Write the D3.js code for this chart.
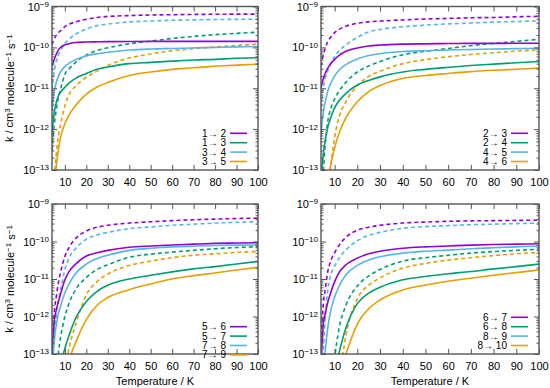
<!DOCTYPE html>
<html>
<head>
<meta charset="utf-8">
<script src="https://cdn.jsdelivr.net/npm/d3@7"></script>
<style>
body { margin: 0; background: #fff; }
svg { font-family: "Liberation Sans", Arial, Helvetica, sans-serif; }
</style>
</head>
<body>
<div id="chart"></div>
<script>
// Temperatures (K) shared by every curve.
var temps = [4, 5, 6, 7, 8, 10, 12, 15, 20, 25, 30, 40, 50, 60, 70, 80, 90, 100];

// Rate coefficients (cm^3 molecule^-1 s^-1).
// Solid = legend curves, "dot" = dashed companion curve of the same colour.
// Top left: 1->2, 1->3, 3->4, 3->5
var k12    = [3.4e-11,5e-11,6.8e-11,8.7e-11,1.0e-10,1.15e-10,1.23e-10,1.32e-10,1.35e-10,1.37e-10,1.38e-10,1.39e-10,1.4e-10,1.4e-10,1.4e-10,1.4e-10,1.4e-10,1.4e-10];
var k13    = [8e-13,2.5e-12,4.5e-12,6.5e-12,8e-12,1.05e-11,1.35e-11,1.75e-11,2.3e-11,2.9e-11,3.3e-11,4.0e-11,4.3e-11,4.6e-11,4.9e-11,5.1e-11,5.4e-11,5.6e-11];
var k34    = [2.9e-12,8e-12,1.4e-11,1.95e-11,2.5e-11,3.4e-11,4.1e-11,5.0e-11,6.2e-11,7.0e-11,7.6e-11,8.6e-11,9.1e-11,9.4e-11,9.7e-11,1.0e-10,1.03e-10,1.05e-10];
var k35    = [3e-15,2.8e-14,1.26e-13,3.2e-13,6.3e-13,1.35e-12,2.24e-12,3.8e-12,7.2e-12,1.07e-11,1.38e-11,2.04e-11,2.5e-11,2.9e-11,3.16e-11,3.47e-11,3.67e-11,3.9e-11];
var k12dot = [1.15e-10,1.6e-10,2.0e-10,2.3e-10,2.55e-10,3.2e-10,3.7e-10,4.2e-10,4.85e-10,5.4e-10,5.7e-10,6.0e-10,6.2e-10,6.3e-10,6.4e-10,6.45e-10,6.5e-10,6.5e-10];
var k13dot = [3e-13,1.2e-12,3e-12,6e-12,9.5e-12,2.2e-11,3.0e-11,4.3e-11,6.5e-11,8.4e-11,9.8e-11,1.22e-10,1.42e-10,1.65e-10,1.85e-10,2.05e-10,2.2e-10,2.35e-10];
var k34dot = [9e-12,2.5e-11,4.5e-11,6.6e-11,8.5e-11,1.25e-10,1.6e-10,2.1e-10,2.8e-10,3.4e-10,3.7e-10,4.2e-10,4.4e-10,4.6e-10,4.7e-10,4.8e-10,4.85e-10,4.9e-10];
var k35dot = [6.3e-15,5.6e-14,2.5e-13,6.8e-13,1.32e-12,3.7e-12,7.1e-12,1.12e-11,1.86e-11,2.63e-11,3.63e-11,5.5e-11,6.9e-11,8.3e-11,9.3e-11,1.02e-10,1.12e-10,1.2e-10];

// Top right: 2->3, 2->4, 4->5, 4->6
var k23    = [1.0e-11,1.7e-11,2.4e-11,3.1e-11,3.8e-11,5.1e-11,6.4e-11,8.0e-11,9.7e-11,1.08e-10,1.14e-10,1.2e-10,1.22e-10,1.24e-10,1.25e-10,1.25e-10,1.26e-10,1.26e-10];
var k24    = [5e-14,2.5e-13,6e-13,1.1e-12,1.7e-12,3.3e-12,5e-12,7.5e-12,1.2e-11,1.55e-11,1.9e-11,2.5e-11,2.9e-11,3.25e-11,3.6e-11,3.9e-11,4.2e-11,4.5e-11];
var k45    = [7e-13,2.5e-12,5e-12,8.5e-12,1.2e-11,2.0e-11,2.8e-11,3.8e-11,5.2e-11,6.3e-11,7.0e-11,7.9e-11,8.3e-11,8.6e-11,8.9e-11,9.1e-11,9.3e-11,9.5e-11];
var k46    = [1e-15,5e-15,1.8e-14,5e-14,1.1e-13,3.5e-13,8e-13,1.9e-12,4.7e-12,8.3e-12,1.17e-11,1.74e-11,2.05e-11,2.3e-11,2.55e-11,2.75e-11,2.92e-11,3.1e-11];
var k23dot = [3.5e-11,6.5e-11,1.0e-10,1.4e-10,1.7e-10,2.3e-10,2.75e-10,3.3e-10,3.9e-10,4.2e-10,4.4e-10,4.7e-10,4.95e-10,5.1e-10,5.3e-10,5.4e-10,5.6e-10,5.75e-10];
var k24dot = [2e-14,9e-14,5e-13,1.6e-12,2.8e-12,5.5e-12,8.5e-12,1.4e-11,2.5e-11,3.5e-11,4.5e-11,6.6e-11,8.0e-11,9.4e-11,1.1e-10,1.25e-10,1.4e-10,1.58e-10];
var k45dot = [3.5e-12,1.0e-11,1.9e-11,2.7e-11,3.6e-11,6.0e-11,8.2e-11,1.15e-10,1.75e-10,2.4e-10,2.75e-10,3.2e-10,3.5e-10,3.75e-10,3.95e-10,4.15e-10,4.3e-10,4.45e-10];
var k46dot = [2.5e-16,1.6e-15,8e-15,3e-14,9e-14,6.3e-13,2e-12,4.7e-12,1.15e-11,1.95e-11,2.6e-11,4.0e-11,5.0e-11,5.9e-11,6.7e-11,7.4e-11,8.1e-11,8.7e-11];

// Bottom left: 5->6, 5->7, 7->8, 7->9
var k56    = [8e-14,7e-13,1.5e-12,2.5e-12,4e-12,9.5e-12,1.6e-11,2.5e-11,4.1e-11,5.0e-11,5.8e-11,7.0e-11,7.6e-11,8.1e-11,8.5e-11,8.9e-11,9.1e-11,9.3e-11];
var k57    = [1.6e-16,1.3e-15,6.3e-15,2e-14,5e-14,1.4e-13,3.2e-13,8.9e-13,2.5e-12,4.7e-12,6.8e-12,1.0e-11,1.26e-11,1.55e-11,1.86e-11,2.14e-11,2.5e-11,2.95e-11];
var k78    = [3e-14,2e-13,6e-13,1.2e-12,1.9e-12,4.3e-12,7.5e-12,1.4e-11,2.5e-11,3.5e-11,4.3e-11,5.8e-11,6.6e-11,7.2e-11,7.5e-11,7.8e-11,8.0e-11,8.1e-11];
var k79    = [1e-18,1e-17,1e-16,5e-16,1.6e-15,1.4e-14,6.3e-14,2e-13,8.3e-13,2e-12,3.2e-12,5.2e-12,7.4e-12,1.0e-11,1.23e-11,1.45e-11,1.74e-11,2.04e-11];
var k56dot = [1e-13,1.2e-12,3.4e-12,8e-12,1.5e-11,4e-11,7e-11,1.2e-10,1.9e-10,2.4e-10,2.7e-10,3.1e-10,3.35e-10,3.6e-10,3.8e-10,3.95e-10,4.1e-10,4.2e-10];
var k57dot = [1e-16,3e-15,3e-14,1.1e-13,2.8e-13,1.0e-12,2.3e-12,5.2e-12,1.1e-11,1.8e-11,2.4e-11,3.8e-11,4.6e-11,5.2e-11,5.8e-11,6.4e-11,6.9e-11,7.3e-11];
var k78dot = [3e-14,3e-13,1.2e-12,2.7e-12,5e-12,1.8e-11,3.7e-11,6.5e-11,1.15e-10,1.5e-10,1.75e-10,2.2e-10,2.45e-10,2.7e-10,2.9e-10,3.1e-10,3.25e-10,3.4e-10];
var k79dot = [1e-18,1e-17,1e-16,1e-15,6e-15,4e-14,1.5e-13,6e-13,3.8e-12,8.5e-12,1.35e-11,2.3e-11,3.0e-11,3.7e-11,4.3e-11,4.7e-11,5.1e-11,5.4e-11];

// Bottom right: 6->7, 6->8, 8->9, 8->10
var k67     = [5e-14,6e-13,1.3e-12,2.4e-12,3.8e-12,8.5e-12,1.5e-11,2.4e-11,3.6e-11,4.7e-11,5.5e-11,6.6e-11,7.2e-11,7.6e-11,8.0e-11,8.3e-11,8.5e-11,8.7e-11];
var k68     = [1e-17,8e-17,4e-16,1.6e-15,5e-15,3.2e-14,1.1e-13,5e-13,2.2e-12,4.2e-12,6.0e-12,9.5e-12,1.17e-11,1.38e-11,1.58e-11,1.86e-11,2.14e-11,2.5e-11];
var k89     = [1e-15,3e-14,1.5e-13,5e-13,1.2e-12,3.3e-12,6.5e-12,1.3e-11,2.3e-11,3.2e-11,3.9e-11,4.9e-11,5.5e-11,5.9e-11,6.4e-11,6.8e-11,7.2e-11,7.6e-11];
var k810    = [1e-17,5e-17,2e-16,6.3e-16,1.6e-15,8e-15,2.5e-14,1e-13,6.3e-13,1.6e-12,2.75e-12,5.1e-12,6.9e-12,8.7e-12,1.05e-11,1.26e-11,1.48e-11,1.74e-11];
var k67dot  = [2e-13,2e-12,6e-12,1.6e-11,2.7e-11,5e-11,8e-11,1.3e-10,2.0e-10,2.4e-10,2.7e-10,3.1e-10,3.3e-10,3.45e-10,3.55e-10,3.6e-10,3.65e-10,3.7e-10];
var k68dot  = [1e-18,1e-17,1e-16,1e-15,8e-15,8e-14,5e-13,2e-12,6.5e-12,1.2e-11,1.8e-11,3.0e-11,3.7e-11,4.3e-11,4.9e-11,5.4e-11,5.8e-11,6.2e-11];
var k89dot  = [1e-14,1.1e-13,1.2e-12,5e-12,1.1e-11,2.2e-11,3.6e-11,6e-11,1.05e-10,1.45e-10,1.75e-10,2.25e-10,2.5e-10,2.65e-10,2.8e-10,2.9e-10,3.0e-10,3.1e-10];
var k810dot = [1e-19,1e-18,1e-17,6.3e-17,3.2e-16,3.2e-15,2e-14,3.2e-13,2.95e-12,6.8e-12,1.07e-11,1.95e-11,2.6e-11,3.2e-11,3.7e-11,4.2e-11,4.7e-11,5.1e-11];

// Legend labels per panel.
var labelsA = ["1\u2192 2", "1\u2192 3", "3\u2192 4", "3\u2192 5"];
var labelsB = ["2\u2192 3", "2\u2192 4", "4\u2192 5", "4\u2192 6"];
var labelsC = ["5\u2192 6", "5\u2192 7", "7\u2192 8", "7\u2192 9"];
var labelsD = ["6\u2192 7", "6\u2192 8", "8\u2192 9", "8\u2192 10"];

// Axis ticks.
var xTicks = [10, 20, 30, 40, 50, 60, 70, 80, 90, 100];
var yDecades = [-13, -12, -11, -10, -9];

var colors = ["#9400d3", "#009e73", "#56b4e9", "#e69f00"];

var panels = [
  {solid: [k12, k13, k34, k35], dashed: [k12dot, k13dot, k34dot, k35dot], labels: labelsA,
   left: 52, right: 258, top: 6.5, bottom: 170, legendTop: 133.3, ylabel: true, xlabel: false},
  {solid: [k23, k24, k45, k46], dashed: [k23dot, k24dot, k45dot, k46dot], labels: labelsB,
   left: 321, right: 539, top: 6.5, bottom: 170, legendTop: 133.3, ylabel: false, xlabel: false},
  {solid: [k56, k57, k78, k79], dashed: [k56dot, k57dot, k78dot, k79dot], labels: labelsC,
   left: 52, right: 258, top: 204, bottom: 354, legendTop: 326.7, ylabel: true, xlabel: true},
  {solid: [k67, k68, k89, k810], dashed: [k67dot, k68dot, k89dot, k810dot], labels: labelsD,
   left: 321, right: 539, top: 204, bottom: 354, legendTop: 317.3, ylabel: false, xlabel: true}
];

var svg = d3.select("#chart").append("svg")
    .attr("width", 550)
    .attr("height", 388);

panels.forEach(function(p, pi) {
  var x = d3.scaleLinear().domain([4, 100]).range([p.left, p.right]);
  var y = d3.scaleLog().domain([1e-13, 1e-9]).range([p.bottom, p.top]);

  var clipId = "clip" + pi;
  svg.append("clipPath").attr("id", clipId)
    .append("rect")
      .attr("x", p.left).attr("y", p.top)
      .attr("width", p.right - p.left).attr("height", p.bottom - p.top);

  var line = d3.line()
      .x(function(d) { return x(d[0]); })
      .y(function(d) { return y(d[1]); })
      .curve(d3.curveMonotoneX);

  var g = svg.append("g").attr("clip-path", "url(#" + clipId + ")");

  // dashed companions first, legend curves on top
  p.dashed.forEach(function(vals, i) {
    g.append("path")
      .datum(temps.map(function(t, j) { return [t, vals[j]]; }))
      .attr("d", line)
      .attr("fill", "none")
      .attr("stroke", colors[i])
      .attr("stroke-width", 1.6)
      .attr("stroke-dasharray", "4,3");
  });
  p.solid.forEach(function(vals, i) {
    g.append("path")
      .datum(temps.map(function(t, j) { return [t, vals[j]]; }))
      .attr("d", line)
      .attr("fill", "none")
      .attr("stroke", colors[i])
      .attr("stroke-width", 1.6);
  });

  // minor log ticks
  var minor = [];
  yDecades.slice(0, 4).forEach(function(e) {
    for (var m = 2; m < 10; m++) minor.push(m * Math.pow(10, e));
  });
  var majors = yDecades.map(function(e) { return Math.pow(10, e); });

  svg.append("g")
      .attr("transform", "translate(" + p.left + ",0)")
      .call(d3.axisLeft(y).tickValues(minor).tickFormat("").tickSizeInner(-2.5).tickSizeOuter(0));
  svg.append("g")
      .attr("transform", "translate(" + p.right + ",0)")
      .call(d3.axisRight(y).tickValues(minor).tickFormat("").tickSizeInner(-2.5).tickSizeOuter(0));
  svg.append("g")
      .attr("transform", "translate(" + p.right + ",0)")
      .call(d3.axisRight(y).tickValues(majors).tickFormat("").tickSizeInner(-5).tickSizeOuter(0));

  var yAx = svg.append("g")
      .attr("class", "y axis")
      .attr("transform", "translate(" + p.left + ",0)")
      .call(d3.axisLeft(y).tickValues(majors).tickSizeInner(-5).tickSizeOuter(0).tickPadding(3));
  yAx.selectAll(".tick text").each(function(d) {
    var t = d3.select(this).text(null).attr("font-size", "11px");
    t.append("tspan").text("10");
    t.append("tspan").attr("dy", "-0.45em").attr("font-size", "8px")
      .text("\u2212" + Math.round(-Math.log10(d)));
  });

  svg.append("g")
      .attr("transform", "translate(0," + p.bottom + ")")
      .call(d3.axisBottom(x).tickValues(xTicks).tickSizeInner(-5).tickSizeOuter(0).tickPadding(8.5))
      .selectAll("text").attr("font-size", "11px");
  svg.append("g")
      .attr("transform", "translate(0," + p.top + ")")
      .call(d3.axisTop(x).tickValues(xTicks).tickFormat("").tickSizeInner(-5).tickSizeOuter(0));

  svg.selectAll(".domain").remove();
  svg.selectAll(".tick line").attr("stroke", "#555");
  svg.selectAll(".tick text").attr("fill", "#000").attr("font-family", null);

  // frame
  svg.append("rect")
      .attr("x", p.left).attr("y", p.top)
      .attr("width", p.right - p.left).attr("height", p.bottom - p.top)
      .attr("fill", "none")
      .attr("stroke", "#555")
      .attr("stroke-width", 1.4);

  // legend
  p.labels.forEach(function(lab, i) {
    var ly = p.legendTop + i * 9.4;
    svg.append("text")
        .attr("x", p.right - 32)
        .attr("y", ly)
        .attr("dy", "0.35em")
        .attr("text-anchor", "end")
        .attr("font-size", "10px")
        .text(lab);
    svg.append("line")
        .attr("x1", p.right - 28).attr("x2", p.right - 11)
        .attr("y1", ly).attr("y2", ly)
        .attr("stroke", colors[i])
        .attr("stroke-width", 1.6);
  });

  if (p.ylabel) {
    var yl = svg.append("text")
        .attr("transform", "translate(13," + ((p.top + p.bottom) / 2) + ") rotate(-90)")
        .attr("text-anchor", "middle")
        .attr("font-size", "11px");
    yl.append("tspan").text("k / cm");
    yl.append("tspan").attr("dy", "-0.4em").attr("font-size", "8px").text("3");
    yl.append("tspan").attr("dy", "0.4em").text(" molecule");
    yl.append("tspan").attr("dy", "-0.4em").attr("font-size", "8px").text("\u22121");
    yl.append("tspan").attr("dy", "0.4em").text(" s");
    yl.append("tspan").attr("dy", "-0.4em").attr("font-size", "8px").text("\u22121");
  }

  if (p.xlabel) {
    svg.append("text")
        .attr("x", (p.left + p.right) / 2)
        .attr("y", 385)
        .attr("text-anchor", "middle")
        .attr("font-size", "11px")
        .text("Temperature / K");
  }
});
</script>
</body>
</html>
